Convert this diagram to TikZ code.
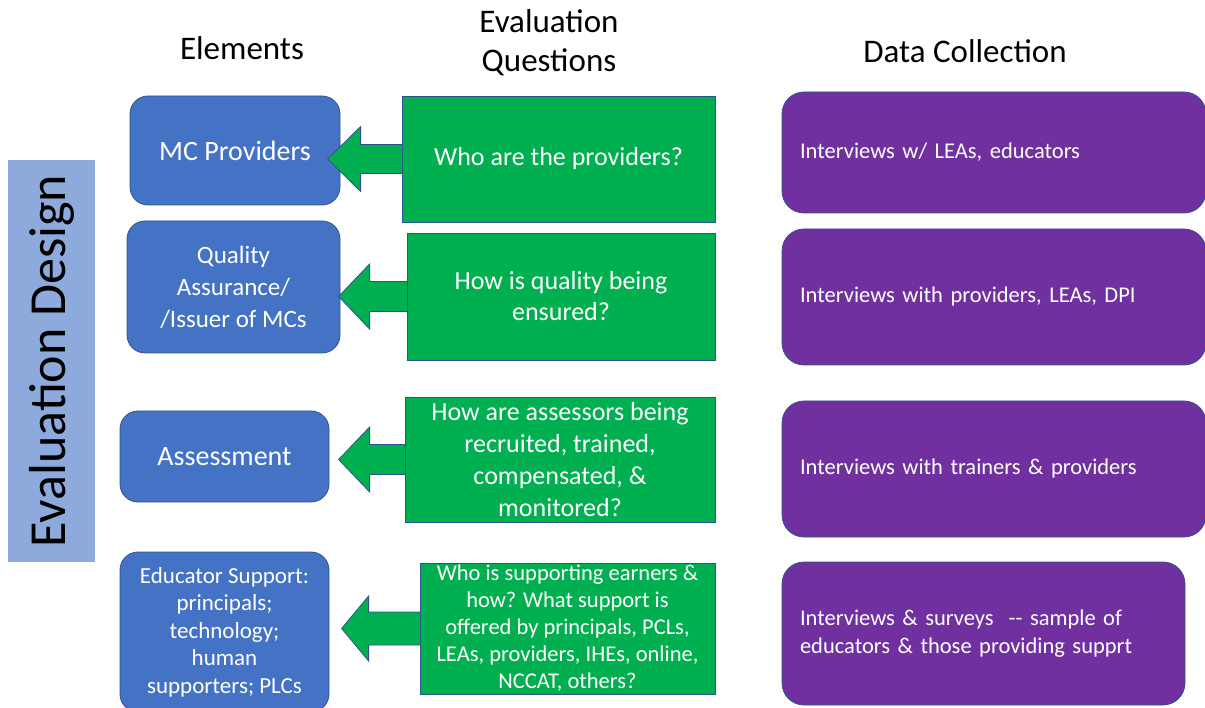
\documentclass[tikz,border=0pt]{standalone}
\usepackage{fontspec}
\setmainfont{Carlito}
\usetikzlibrary{calc}
\usepackage{xcolor}

\definecolor{elemblue}{HTML}{4472C4}
\definecolor{questgreen}{HTML}{00B050}
\definecolor{datapurple}{HTML}{7030A0}
\definecolor{barblue}{HTML}{8EA9DB}
\definecolor{edgeblue}{HTML}{2F528F}

\begin{document}
\begin{tikzpicture}[x=1pt, y=-1pt,
    elem/.style={draw=edgeblue, line width=0.8pt, fill=elemblue, rounded corners=18pt, text=white, align=center, inner sep=0pt},
    quest/.style={draw=edgeblue, line width=0.8pt, fill=questgreen, text=white, align=center, inner sep=0pt},
    datab/.style={draw=edgeblue, line width=0.8pt, fill=datapurple, rounded corners=22pt, text=white, align=left, inner xsep=18pt, inner ysep=0pt},
    colhead/.style={font=\fontsize{33}{39}\selectfont, align=center, inner sep=0pt}]

\useasboundingbox (0,0) rectangle (1205,708);

% column headers
\node[colhead] (hElem) at (242,48) {Elements};
\node[colhead] (hQuest) at (549,43) {Evaluation\\Questions};
\node[colhead] (hData) at (965,51) {Data Collection};

% side bar
\node[fill=barblue, rotate=90, minimum width=402pt, minimum height=87pt, inner sep=0pt,
      font=\fontsize{52}{60}\selectfont] (design) at (51.5,361) {Evaluation Design};

% elements
\node[elem, minimum width=210pt, minimum height=109pt, font=\fontsize{28}{34}\selectfont] (e1) at (235,150.5) {MC Providers};
\node[elem, minimum width=213pt, minimum height=132pt, font=\fontsize{25}{32}\selectfont] (e2) at (233.5,287) {Quality\\Assurance/\\/Issuer of MCs};
\node[elem, minimum width=209pt, minimum height=91pt, font=\fontsize{28}{34}\selectfont] (e3) at (224.5,456.5) {Assessment};
\node[elem, minimum width=209pt, minimum height=160pt, font=\fontsize{23}{27.5}\selectfont] (e4) at (224.5,632) {Educator Support:\\principals;\\technology;\\human\\supporters; PLCs};

% questions
\node[quest, minimum width=313pt, minimum height=126pt, font=\fontsize{26}{31}\selectfont] (q1) at (558.5,159) {Who are the providers?};
\node[quest, minimum width=308pt, minimum height=127pt, font=\fontsize{26}{31}\selectfont] (q2) at (561,296.5) {How is quality being\\ensured?};
\node[quest, minimum width=310pt, minimum height=125pt, font=\fontsize{26}{32}\selectfont] (q3) at (560,459.5) {How are assessors being\\recruited, trained,\\compensated, \&\\monitored?};
\node[quest, minimum width=295pt, minimum height=131pt, font=\fontsize{22.5}{27}\selectfont] (q4) at (567.5,628.5) {Who is supporting earners \&\\how? What support is\\offered by principals, PCLs,\\LEAs, providers, IHEs, online,\\NCCAT, others?};

% arrows pointing back to the elements
\foreach \q/\base/\tip/\sh in {q1/41/74/14.5, q2/37/68/15, q3/35/66/15, q4/51/78/16.5} {
    \path[fill=questgreen, draw=edgeblue, line width=0.8pt]
        ($(\q.west)+(0.6,-\sh)$) -- ($(\q.west)+(-\base,-\sh)$) -- ($(\q.west)+(-\base,-32.5)$)
        -- ($(\q.west)+(-\tip,0)$)
        -- ($(\q.west)+(-\base,32.5)$) -- ($(\q.west)+(-\base,\sh)$) -- ($(\q.west)+(0.6,\sh)$);
}

% data collection
\node[datab, text width=388pt, minimum height=121pt, font=\fontsize{22.5}{27.5}\selectfont] (d1) at (994,152.5) {Interviews w/ LEAs, educators};
\node[datab, text width=388pt, minimum height=136pt, font=\fontsize{22.5}{27.5}\selectfont] (d2) at (994,297) {Interviews with providers, LEAs, DPI};
\node[datab, text width=388pt, minimum height=136pt, font=\fontsize{22.5}{27.5}\selectfont] (d3) at (994,469) {Interviews with trainers \& providers};
\node[datab, text width=367pt, minimum height=143pt, font=\fontsize{22.5}{28}\selectfont] (d4) at (983.5,633.5) {Interviews \& surveys~ -{}- sample of\\educators \& those providing supprt};

\end{tikzpicture}
\end{document}
